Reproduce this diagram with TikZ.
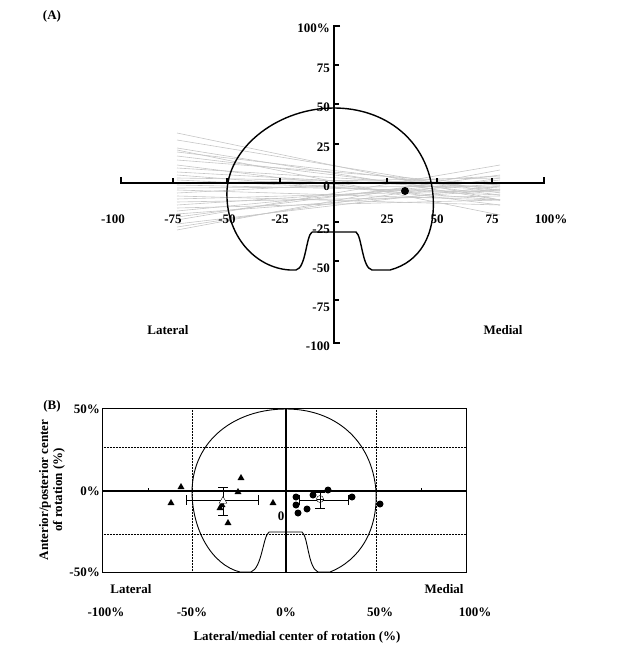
\documentclass[tikz,border=0pt]{standalone}
\usepackage{fontspec}
\setmainfont{Liberation Serif}
\usetikzlibrary{shapes.geometric}
\tikzset{
  lbl/.style={font=\bfseries\fontsize{13}{14}\selectfont, inner sep=1pt},
  axisline/.style={line width=1.6pt},
  outline/.style={line width=1.4pt},
  grayline/.style={gray!45, line width=0.6pt},
  gridline/.style={densely dotted, line width=0.5pt},
  tri/.style={regular polygon, regular polygon sides=3, fill=black, inner sep=0pt, minimum size=8pt},
  dot/.style={circle, fill=black, inner sep=0pt, minimum size=8pt},
}
\begin{document}
\begin{tikzpicture}[x=1pt,y=-1pt]
\useasboundingbox (0,0) rectangle (620,660);
% panel A
\node[lbl] (titleA) at (52,16) {(A)};
\foreach \a/\b in {133/200,140/193,148/200,152/190,156/195,160/185,165/205,168/188,172/190,175/200,178/183,180/195,183/178,185/192,188/186,190/200,193/176,196/205,199/190,202/196,205/184,208/200,211/180,214/190,217/175,220/165,224/186,227/178,230/170}
  \draw[grayline] (177,\a) -- (500,\b);
\draw[grayline] (177,150) -- (500,215);
\draw[axisline] (121,177) -- (121,183) -- (544,183) -- (544,177);
\foreach \x in {173,227,280,387,437,492}
  \draw[line width=1.2pt] (\x,183) -- (\x,178);
\draw[axisline] (340,26) -- (334,26) -- (334,343) -- (340,343);
\foreach \y in {65,104,144,222,261,300}
  \draw[line width=1.2pt] (334,\y) -- (339,\y);
\draw[outline] (312,232) -- (356,232) .. controls (362,236) and (362,268) .. (372,270) -- (390,270)
  .. controls (420,262) and (436,235) .. (433,195) .. controls (428,140) and (385,108) .. (334,108)
  .. controls (280,108) and (230,145) .. (227,190) .. controls (225,235) and (255,268) .. (290,270)
  -- (296,270) .. controls (306,268) and (306,236) .. (312,232);
\node[dot] (meanA) at (405,191) {};
\foreach \t/\x in {-100/113,-75/173,-50/227,-25/280,25/387,50/437,75/492,100\%/551}
  \node[lbl] at (\x,219) {\t};
\foreach \t/\y in {100\%/28,75/68,50/107,25/147,0/186,-25/229,-50/268,-75/307,-100/346}
  \node[lbl, anchor=east] at (331,\y) {\t};
\node[lbl] (latA) at (168,330) {Lateral};
\node[lbl] (medA) at (503,330) {Medial};
% panel B
\node[lbl] (titleB) at (52,406) {(B)};
\draw[gridline] (192,408) -- (192,572) (376,408) -- (376,572) (102,447) -- (466,447) (102,534) -- (466,534);
\draw[line width=0.5pt] (102,408) rectangle (466,572);
\draw[axisline] (102,491) -- (466,491);
\draw[axisline] (286,408) -- (286,572);
\foreach \x in {148,421}
  \draw (\x,491) -- (\x,488);
\draw[line width=0.9pt] (269,532) -- (302,532) .. controls (308,536) and (308,568) .. (318,572) -- (330,572)
  .. controls (360,560) and (378,530) .. (376,491) .. controls (372,440) and (335,409) .. (286,409)
  .. controls (235,409) and (193,440) .. (192,491) .. controls (192,530) and (212,565) .. (240,572)
  -- (251,572) .. controls (262,568) and (263,536) .. (269,532);
\foreach \x/\y in {181/487,171/503,241/478,238/492,220/508,228/523,273/503,222/505}
  \node[tri] at (\x,\y) {};
\foreach \x/\y in {296/497,296/505,298/513,307/509,313/495,328/490,352/497,380/504}
  \node[dot, minimum size=7pt] at (\x,\y) {};
\draw (186,495) -- (186,505) (186,500) -- (258,500) (258,495) -- (258,505);
\draw (218,487) -- (228,487) (223,487) -- (223,515) (218,515) -- (228,515);
\node[regular polygon, regular polygon sides=3, draw, fill=white, inner sep=0pt, minimum size=9pt] (meanL) at (223,501) {};
\draw (299,495) -- (299,505) (299,500) -- (348,500) (348,495) -- (348,505);
\draw (315,492) -- (325,492) (320,492) -- (320,508) (315,508) -- (325,508);
\node[circle, draw, fill=white, inner sep=0pt, minimum size=7pt] (meanM) at (320,499) {};
\draw (316.5,499) -- (323.5,499) (320,495.5) -- (320,502.5);
\node[lbl] at (281,516) {0};
\node[lbl, anchor=east] at (101,409) {50\%};
\node[lbl, anchor=east] at (101,491) {0\%};
\node[lbl, anchor=east] at (101,572) {-50\%};
\node[lbl, rotate=90, align=center] (ylab) at (52,490) {Anterior/posterior center\\of rotation (\%)};
\node[lbl] (latB) at (131,589) {Lateral};
\node[lbl] (medB) at (444,589) {Medial};
\foreach \t/\x in {-100\%/106,-50\%/192,0\%/286,50\%/380,100\%/475}
  \node[lbl] at (\x,612) {\t};
\node[lbl] (xlab) at (297,637) {Lateral/medial center of rotation (\%)};
\end{tikzpicture}
\end{document}
